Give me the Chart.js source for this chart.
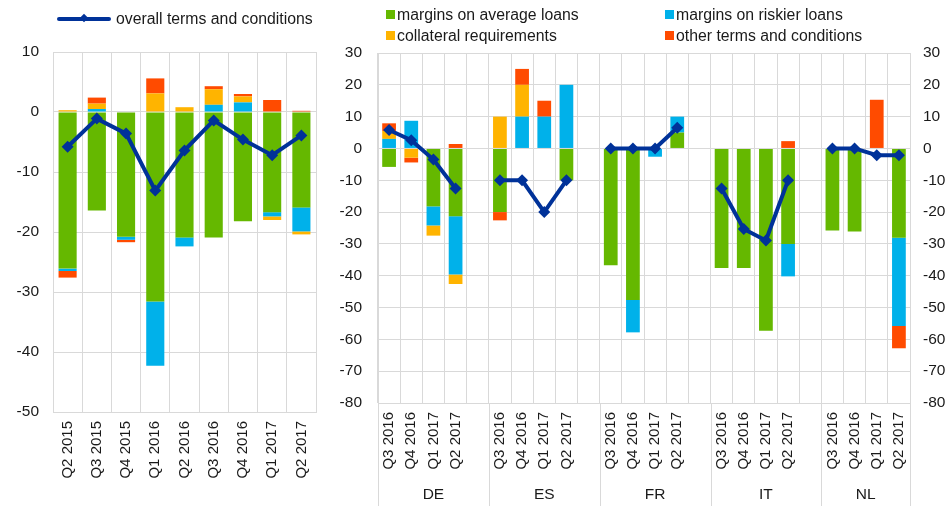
<!DOCTYPE html>
<html>
<head>
<meta charset="utf-8">
<title>Terms and conditions on loans</title>
<script src="https://cdn.jsdelivr.net/npm/chart.js@4/dist/chart.umd.min.js"></script>
<style>
  html, body { margin: 0; padding: 0; background: #fff; }
  body {
    width: 951px; height: 511px; position: relative; overflow: hidden;
    font-family: 'Liberation Sans', Arial, sans-serif; color: #1a1a1a;
  }
  #left-chart { position: absolute; left: 0; top: 0; }
  #right-chart { position: absolute; left: 330px; top: 0; }
  .leg { position: absolute; font-size: 15.8px; line-height: 18px; white-space: nowrap; }
  .leg .sw { position: absolute; left: -11px; top: 4px; width: 9px; height: 9px; }
  .leg-line { position: absolute; left: 57px; top: 17px; width: 54px; height: 4px; background: #003299; border-radius: 2px; }
  .leg-line i { position: absolute; left: 24px; top: -2px; width: 6px; height: 6px; background: #003299; transform: rotate(45deg); }
</style>
</head>
<body>
<canvas id="left-chart" width="330" height="511"></canvas>
<canvas id="right-chart" width="621" height="511"></canvas>

<div class="leg-line"><i></i></div>
<div class="leg" style="left:116px; top:10px;">overall terms and conditions</div>

<div class="leg" style="left:397px; top:6px;"><span class="sw" style="background:#65B800"></span>margins on average loans</div>
<div class="leg" style="left:676px; top:6px;"><span class="sw" style="background:#00B1EA"></span>margins on riskier loans</div>
<div class="leg" style="left:397px; top:27px;"><span class="sw" style="background:#FFB400"></span>collateral requirements</div>
<div class="leg" style="left:676px; top:27px;"><span class="sw" style="background:#FF4B00"></span>other terms and conditions</div>

<script>
(function () {
  'use strict';

  /* ── Euro area panel ─────────────────────────────────────────────── */
  var LEFT_LABELS = ['Q2 2015', 'Q3 2015', 'Q4 2015', 'Q1 2016', 'Q2 2016',
                     'Q3 2016', 'Q4 2016', 'Q1 2017', 'Q2 2017'];
  var LEFT_AVERAGE    = [-26.1, -16.4, -20.8, -31.6, -20.9, -20.9, -18.2, -16.7, -15.9];
  var LEFT_RISKIER    = [-0.4, 0.5, -0.5, -10.7, -1.5, 1.2, 1.6, -0.7, -4.0];
  var LEFT_COLLATERAL = [0.3, 0.9, 0, 3.1, 0.8, 2.6, 1.0, -0.6, -0.5];
  var LEFT_OTHER      = [-1.1, 1.0, -0.4, 2.5, 0, 0.5, 0.4, 2.0, 0.2];
  var LEFT_OVERALL    = [-5.8, -1.1, -3.6, -13.1, -6.4, -1.4, -4.6, -7.2, -3.9];
  var LEFT_TICKS      = { min: -50, max: 10, step: 10 };

  /* ── Country panel (empty slot between countries) ───────────────── */
  var GROUPS = ['DE', 'ES', 'FR', 'IT', 'NL'];
  var RIGHT_LABELS = [
    'Q3 2016', 'Q4 2016', 'Q1 2017', 'Q2 2017', '',
    'Q3 2016', 'Q4 2016', 'Q1 2017', 'Q2 2017', '',
    'Q3 2016', 'Q4 2016', 'Q1 2017', 'Q2 2017', '',
    'Q3 2016', 'Q4 2016', 'Q1 2017', 'Q2 2017', '',
    'Q3 2016', 'Q4 2016', 'Q1 2017', 'Q2 2017'
  ];
  var RIGHT_AVERAGE = [
    -5.8, 0, -18.2, -21.3, null,
    -20, 0, 0, -10, null,
    -36.7, -47.6, 0, 5, null,
    -37.6, -37.6, -57.3, -30, null,
    -25.8, -26.1, 0, -28.1
  ];
  var RIGHT_RISKIER = [
    3.0, 8.7, -6.0, -18.3, null,
    0, 10, 10, 20, null,
    0, -10.2, -2.6, 5, null,
    0, 0, 0, -10.2, null,
    0, 0, 0, -27.7
  ];
  var RIGHT_COLLATERAL = [
    2.5, -2.9, -3.2, -3.0, null,
    10, 10, 0, 0, null,
    0, 0, 0, 0, null,
    0, 0, 0, 0, null,
    0, 0, 0, 0
  ];
  var RIGHT_OTHER = [
    2.4, -1.5, 0, 1.4, null,
    -2.6, 5, 5, 0, null,
    0, 0, 0, 0, null,
    0, 0, 0, 2.3, null,
    0, 0, 15.3, -7.0
  ];
  var RIGHT_OVERALL = [
    5.8, 2.6, -3.5, -12.6, null,
    -10, -10, -20, -10, null,
    0, 0, 0, 6.5, null,
    -12.6, -25.3, -28.9, -10, null,
    0, 0, -2.1, -2.1
  ];
  var RIGHT_TICKS = { min: -80, max: 30, step: 10 };

  var COLORS = {
    average: '#65B800',
    riskier: '#00B1EA',
    collateral: '#FFB400',
    other: '#FF4B00',
    overall: '#003299',
    grid: '#d9d9d9',
    text: '#1a1a1a'
  };
  var FAMILY = "'Liberation Sans', Arial, sans-serif";
  var TICK_FONT = { family: FAMILY, size: 15.5 };
  var CAT_FONT = { family: FAMILY, size: 15 };

  function barSet(label, data, color) {
    return {
      type: 'bar', label: label, data: data, backgroundColor: color,
      borderWidth: 0, barPercentage: 0.62, categoryPercentage: 1,
      stack: 'bars', order: 1
    };
  }

  function lineSet(data) {
    return {
      type: 'line', label: 'overall terms and conditions', data: data,
      borderColor: COLORS.overall, backgroundColor: COLORS.overall,
      borderWidth: 4, pointStyle: 'rectRot', pointRadius: 6,
      pointBorderWidth: 0, pointBackgroundColor: COLORS.overall,
      tension: 0, spanGaps: false, stack: 'line', order: 0
    };
  }

  function datasets(avg, risk, coll, other, overall) {
    return [
      lineSet(overall),
      barSet('margins on average loans', avg, COLORS.average),
      barSet('margins on riskier loans', risk, COLORS.riskier),
      barSet('collateral requirements', coll, COLORS.collateral),
      barSet('other terms and conditions', other, COLORS.other)
    ];
  }

  function yAxis(t, position, width, pad, showGrid) {
    return {
      type: 'linear', position: position, stacked: true,
      min: t.min, max: t.max,
      grid: { display: showGrid, color: COLORS.grid, drawTicks: false },
      border: { display: true, color: COLORS.grid },
      ticks: { stepSize: t.step, color: COLORS.text, font: TICK_FONT, padding: pad },
      afterFit: function (s) { s.width = width; }
    };
  }

  function xAxis(height) {
    return {
      stacked: true,
      grid: { color: COLORS.grid, offset: true, drawTicks: false },
      border: { color: COLORS.grid },
      ticks: {
        color: COLORS.text, font: CAT_FONT, minRotation: 90, maxRotation: 90,
        padding: 9, autoSkip: false
      },
      afterFit: function (s) { s.height = height; }
    };
  }

  var commonPlugins = {
    legend: { display: false },
    tooltip: { enabled: false }
  };

  new Chart(document.getElementById('left-chart'), {
    type: 'bar',
    data: {
      labels: LEFT_LABELS,
      datasets: datasets(LEFT_AVERAGE, LEFT_RISKIER, LEFT_COLLATERAL, LEFT_OTHER, LEFT_OVERALL)
    },
    options: {
      responsive: false, animation: false, devicePixelRatio: 1,
      layout: { padding: { top: 52, right: 14, left: 0, bottom: 0 } },
      plugins: commonPlugins,
      scales: {
        x: xAxis(99),
        y: yAxis(LEFT_TICKS, 'left', 53, 14, true)
      }
    }
  });

  // Country names and separators under the rotated quarter labels
  var countryGroups = {
    id: 'countryGroups',
    afterDraw: function (chart) {
      var x = chart.scales.x;
      var ctx = chart.ctx;
      var half = (x.getPixelForValue(1) - x.getPixelForValue(0)) / 2;
      var edges = GROUPS.map(function (g, i) { return x.getPixelForValue(i * 5) - half; });
      edges.push(x.getPixelForValue(RIGHT_LABELS.length - 1) + half);

      ctx.save();
      ctx.strokeStyle = COLORS.grid;
      ctx.lineWidth = 1;
      edges.forEach(function (px) {
        var p = Math.round(px) + 0.5;
        ctx.beginPath();
        ctx.moveTo(p, chart.chartArea.bottom);
        ctx.lineTo(p, 506);
        ctx.stroke();
      });
      ctx.fillStyle = COLORS.text;
      ctx.font = '15.5px ' + FAMILY;
      ctx.textAlign = 'center';
      ctx.textBaseline = 'middle';
      GROUPS.forEach(function (g, i) {
        ctx.fillText(g, (edges[i] + edges[i + 1]) / 2, 495);
      });
      ctx.restore();
    }
  };

  new Chart(document.getElementById('right-chart'), {
    type: 'bar',
    data: {
      labels: RIGHT_LABELS,
      datasets: datasets(RIGHT_AVERAGE, RIGHT_RISKIER, RIGHT_COLLATERAL, RIGHT_OTHER, RIGHT_OVERALL)
    },
    options: {
      responsive: false, animation: false, devicePixelRatio: 1,
      layout: { padding: { top: 53, right: 0, left: 0, bottom: 0 } },
      plugins: commonPlugins,
      scales: {
        x: xAxis(108),
        y: yAxis(RIGHT_TICKS, 'left', 48, 16, true),
        y2: yAxis(RIGHT_TICKS, 'right', 41, 13, false)
      }
    },
    plugins: [countryGroups]
  });
})();
</script>
</body>
</html>
